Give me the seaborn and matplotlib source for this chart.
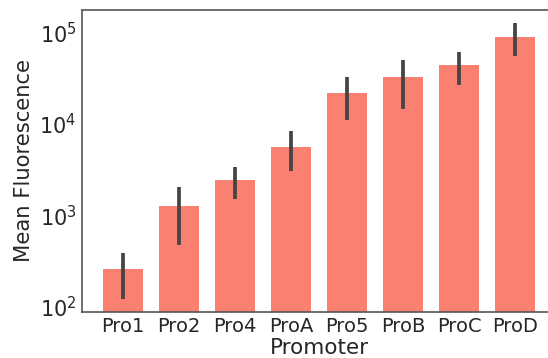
import numpy as np
import matplotlib
matplotlib.use("Agg")
import matplotlib.pyplot as plt
import seaborn as sns

promoters = ["Pro1", "Pro2", "Pro4", "ProA", "Pro5", "ProB", "ProC", "ProD"]
mean_fluor = [255, 1250, 2430, 5600, 21900, 32800, 43400, 88000]
err_low = [122, 466, 1500, 3050, 11000, 14600, 26200, 54500]
err_high = [383, 2050, 3370, 8380, 32800, 50000, 61500, 126000]

sns.set_theme(style="white")
fig = plt.figure(figsize=(5.48, 3.58), dpi=100)
ax = fig.add_axes([82 / 548, 46.3 / 358, (556 - 82) / 548, (311.7 - 10) / 358])
ax.set_yscale("log")
sns.barplot(x=promoters, y=mean_fluor, color="salmon", saturation=1,
            width=0.7, errorbar=None, linewidth=0, ax=ax)
pos = np.arange(len(promoters))
means = np.array(mean_fluor, dtype=float)
yerr = [means - np.array(err_low), np.array(err_high) - means]
ax.errorbar(pos, means, yerr=yerr, fmt="none", ecolor="#444444",
            elinewidth=2.7, capsize=0, zorder=3)
ax.set_xlim(-0.73, 7.73)
ax.set_ylim(88, 175000)
ax.set_xlabel("Promoter", fontsize=15.5, labelpad=1.5)
ax.set_ylabel("Mean Fluorescence", fontsize=15.2)
ax.tick_params(axis="x", labelsize=14, length=0, pad=4)
ax.tick_params(axis="y", labelsize=15, length=0, pad=4)
ax.minorticks_off()
for s in ax.spines.values():
    s.set_color("#555555")
    s.set_linewidth(1.2)
ax.spines["right"].set_visible(False)
fig.savefig("out.png", dpi=100)
